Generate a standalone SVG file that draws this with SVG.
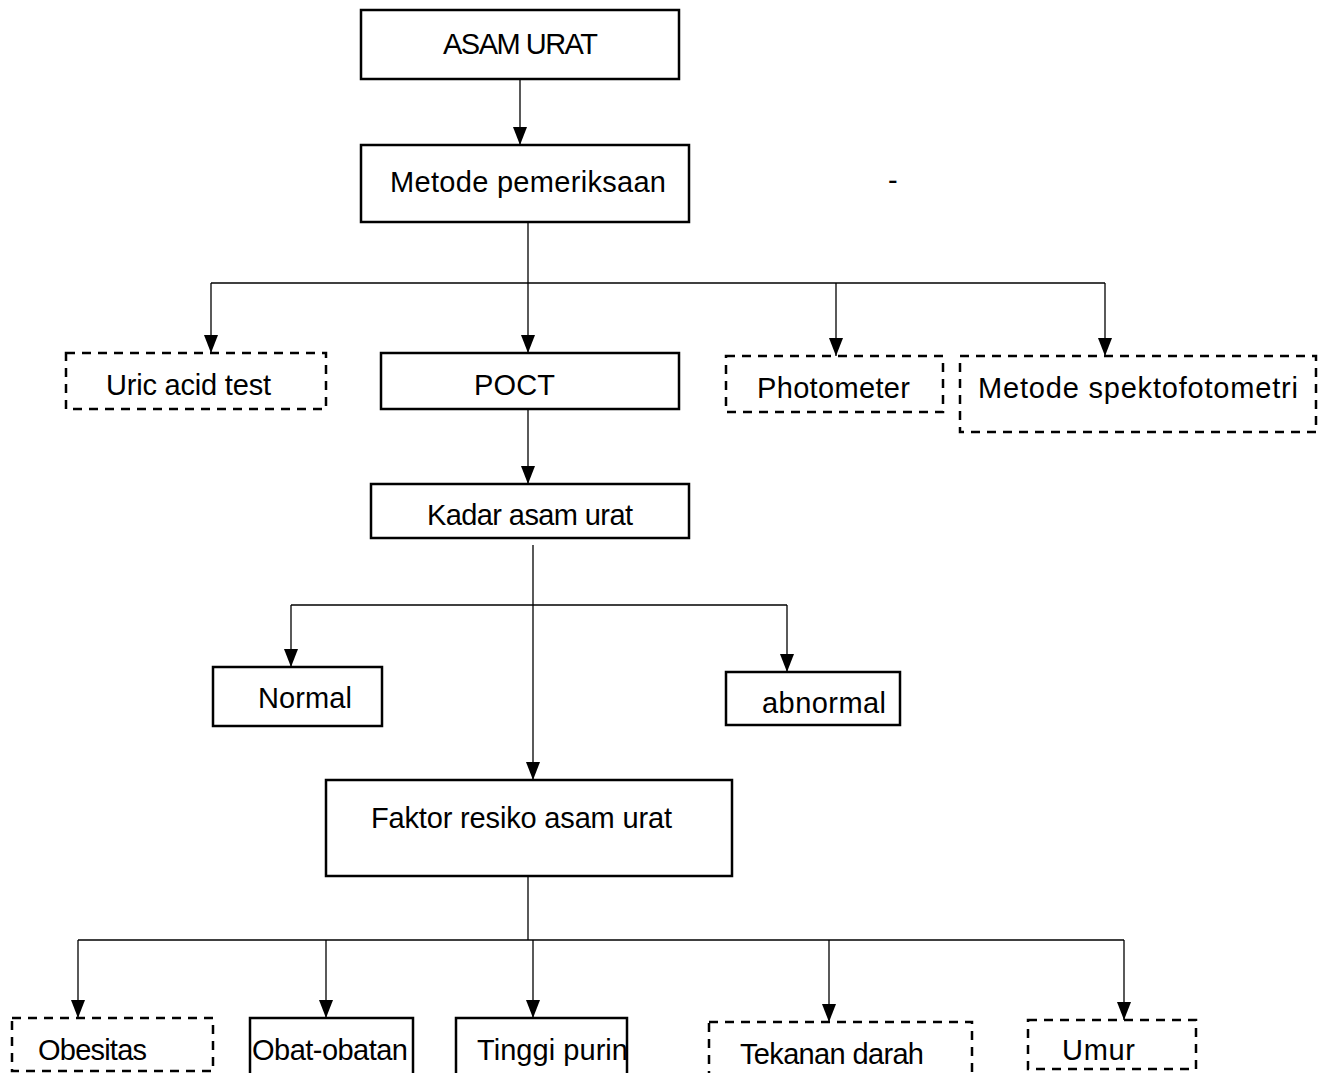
<svg xmlns="http://www.w3.org/2000/svg" width="1325" height="1073" viewBox="0 0 1325 1073">
<defs>
<marker id="ah" viewBox="0 0 18 14" refX="18" refY="7" markerWidth="18" markerHeight="14" markerUnits="userSpaceOnUse" orient="auto">
<path d="M0,0 L18,7 L0,14 Z" fill="#000"/>
</marker>
<style>
.box{fill:#fff;stroke:#000;stroke-width:2.5}
.dash{fill:#fff;stroke:#000;stroke-width:2.5;stroke-dasharray:9 7}
.t{font-family:"Liberation Sans",Arial,sans-serif;font-size:29px;fill:#000}
.c{fill:none;stroke:#000;stroke-width:1.3}
.a{fill:none;stroke:#000;stroke-width:1.3;marker-end:url(#ah)}
</style>
</defs>
<rect width="1325" height="1073" fill="#fff"/>
<g id="connectors">
<path class="a" d="M520,79 V145"/>
<path class="c" d="M528,222 V283"/>
<path class="c" d="M211,283 H1105"/>
<path class="a" d="M211,283 V353"/>
<path class="a" d="M528,283 V353"/>
<path class="a" d="M836,283 V356"/>
<path class="a" d="M1105,283 V356"/>
<path class="a" d="M528,409 V484"/>
<path class="a" d="M533,545 V780"/>
<path class="c" d="M291,605 H787"/>
<path class="a" d="M291,605 V667"/>
<path class="a" d="M787,605 V672"/>
<path class="c" d="M528,876 V940"/>
<path class="c" d="M78,940 H1124"/>
<path class="a" d="M78,940 V1018"/>
<path class="a" d="M326,940 V1018"/>
<path class="a" d="M533,940 V1018"/>
<path class="a" d="M829,940 V1022"/>
<path class="a" d="M1124,940 V1020"/>
</g>
<g id="asam-urat"><rect class="box" x="361" y="10" width="318" height="69"/><text class="t" x="443" y="54" textLength="155">ASAM URAT</text></g>
<g id="metode-pemeriksaan"><rect class="box" x="361" y="145" width="328" height="77"/><text class="t" x="390" y="192" textLength="276">Metode pemeriksaan</text></g>
<g id="dash-mark"><text class="t" x="888" y="190">-</text></g>
<g id="uric-acid-test"><rect class="dash" x="66" y="353" width="260" height="56"/><text class="t" x="106" y="395" textLength="165">Uric acid test</text></g>
<g id="poct"><rect class="box" x="381" y="353" width="298" height="56"/><text class="t" x="474" y="395" textLength="81">POCT</text></g>
<g id="photometer"><rect class="dash" x="726" y="356" width="217" height="56"/><text class="t" x="757" y="398" textLength="153">Photometer</text></g>
<g id="metode-spektofotometri"><rect class="dash" x="960" y="356" width="356" height="76"/><text class="t" x="978" y="398" textLength="320">Metode spektofotometri</text></g>
<g id="kadar-asam-urat"><rect class="box" x="371" y="484" width="318" height="54"/><text class="t" x="427" y="525" textLength="206">Kadar asam urat</text></g>
<g id="normal"><rect class="box" x="213" y="667" width="169" height="59"/><text class="t" x="258" y="708" textLength="94">Normal</text></g>
<g id="abnormal"><rect class="box" x="726" y="672" width="174" height="53"/><text class="t" x="762" y="713" textLength="124">abnormal</text></g>
<g id="faktor-resiko"><rect class="box" x="326" y="780" width="406" height="96"/><text class="t" x="371" y="828" textLength="301">Faktor resiko asam urat</text></g>
<g id="obesitas"><rect class="dash" x="12" y="1018" width="201" height="53"/><text class="t" x="38" y="1060" textLength="109">Obesitas</text></g>
<g id="obat-obatan"><rect class="box" x="250" y="1018" width="163" height="70"/><text class="t" x="252" y="1060" textLength="156">Obat-obatan</text></g>
<g id="tinggi-purin"><rect class="box" x="456" y="1018" width="171" height="70"/><text class="t" x="477" y="1060" textLength="151">Tinggi purin</text></g>
<g id="tekanan-darah"><rect class="dash" x="709" y="1022" width="263" height="70"/><text class="t" x="740" y="1064" textLength="184">Tekanan darah</text></g>
<g id="umur"><rect class="dash" x="1028" y="1020" width="168" height="49"/><text class="t" x="1062" y="1060" textLength="73">Umur</text></g>
</svg>
